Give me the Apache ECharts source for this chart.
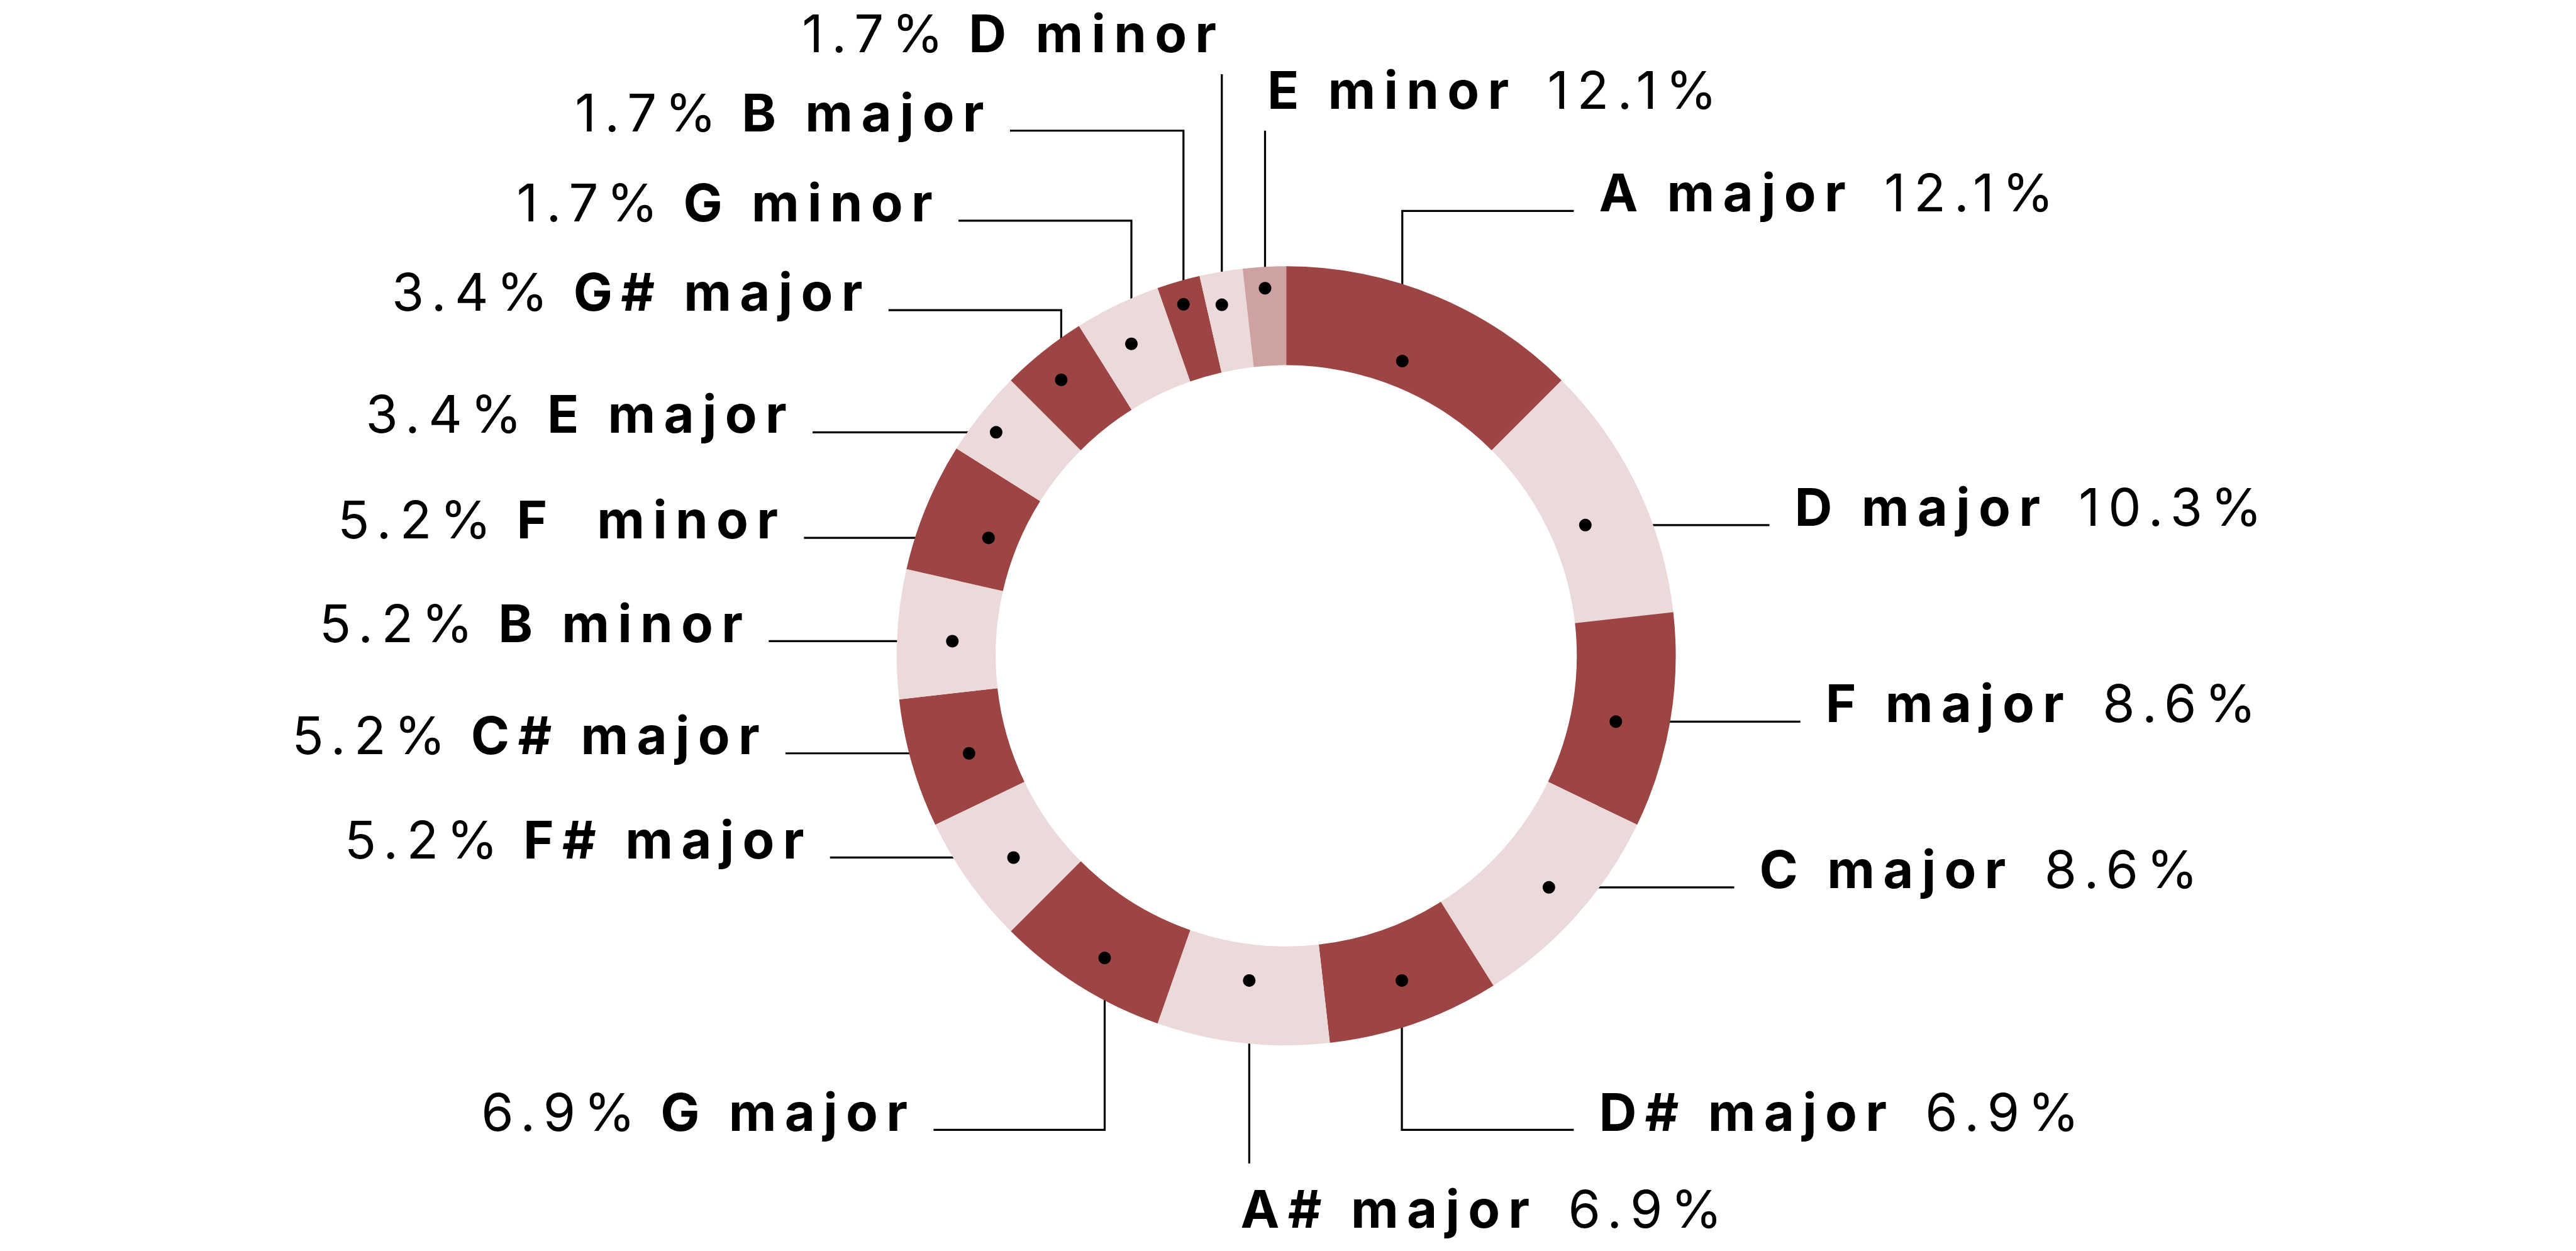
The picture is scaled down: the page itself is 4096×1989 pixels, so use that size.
<!DOCTYPE html>
<html><head><meta charset="utf-8">
<script src="https://cdn.jsdelivr.net/npm/echarts@6/dist/echarts.min.js"></script>
<style>
html,body{margin:0;padding:0;background:#fff;overflow:hidden}
#chart{width:4096px;height:1989px}
#chart text{letter-spacing:0.16em}
</style>
</head><body><div id="chart"></div>
<script>
// ---- data ----
const keys = ['A major','D major','F major','C major','D# major','A# major','G major','F# major','C# major','B minor','F  minor','E major','G# major','G minor','B major','D minor','E minor'];
// slice sizes as drawn in the reference (units of 1/56 of the ring)
const counts = [7,6,5,5,4,4,4,3,3,3,3,2,2,2,1,1,1];
const percentLabels = ['12.1%','10.3%','8.6%','8.6%','6.9%','6.9%','6.9%','5.2%','5.2%','5.2%','5.2%','3.4%','3.4%','1.7%','1.7%','1.7%','12.1%'];
// marker dots: radius (fraction of outer radius) and angle (degrees clockwise from top)
const dotRadii  = [0.813,0.838,0.863,0.899,0.885,0.839,0.905,0.871,0.852,0.858,0.822,0.940,0.914,0.894,0.940,0.916,0.945];
const dotAngles = [21.5,66.4,101.3,131.4,160.4,186.5,211.0,233.5,252.9,272.5,291.6,307.6,320.8,333.6,343.7,349.6,356.7];

// ---- layout (reference px, scaled by S) ----
const S = 0.862;
const CX = 2372.6*S, CY = 1209.5*S, RO = 718.5*S, RI = 536*S;
const FS = 83, LS_EM = 0.16, LSPX = FS*LS_EM;
const BASE_OFF = 0.30*FS + 4;
const labelCfg = [
  {t:'uh', side:'r', ey:389, ex:2903},
  {t:'h',  side:'r', ex:3264},
  {t:'h',  side:'r', ex:3321},
  {t:'h',  side:'r', ex:3199},
  {t:'dh', side:'r', ey:2084, ex:2903},
  {t:'vd', side:'r', ey:2146, dx:-16},
  {t:'dh', side:'l', ey:2084, ex:1722},
  {t:'h',  side:'l', ex:1531},
  {t:'h',  side:'l', ex:1449},
  {t:'h',  side:'l', ex:1418},
  {t:'h',  side:'l', ex:1483},
  {t:'h',  side:'l', ex:1499},
  {t:'uh', side:'l', ey:572, ex:1639},
  {t:'uh', side:'l', ey:407, ex:1768},
  {t:'uh', side:'l', ey:241, ex:1863},
  {t:'vu', side:'l', ey:137, dx:-10},
  {t:'vu', side:'r', ey:241, dx:4}
];
const DARK = '#9d4545', LIGHT = '#ecdada', MID = '#cfa2a2';
function sliceColor(i){ return i === keys.length-1 ? MID : (i % 2 === 0 ? DARK : LIGHT); }

// text measurement that includes the letter spacing used for drawing
const mctx = document.createElement('canvas').getContext('2d');
if (echarts.setPlatformAPI) {
  echarts.setPlatformAPI({
    measureText: function (text, font) {
      mctx.font = font || '12px sans-serif';
      const m = mctx.measureText(text);
      const fm = /(\d+(?:\.\d+)?)px/.exec(font || '');
      const fs = fm ? parseFloat(fm[1]) : 12;
      return {
        width: m.width + text.length * LS_EM * fs,
        actualBoundingBoxAscent: m.actualBoundingBoxAscent,
        actualBoundingBoxDescent: m.actualBoundingBoxDescent,
        actualBoundingBoxLeft: m.actualBoundingBoxLeft,
        actualBoundingBoxRight: m.actualBoundingBoxRight
      };
    }
  });
}

const chart = echarts.init(document.getElementById('chart'), null, {renderer:'svg'});

function dotPixel(i){
  let p = null;
  try { p = chart.convertToPixel({polarIndex:0}, [dotRadii[i], dotAngles[i]]); } catch(e) { p = null; }
  if (!p || !isFinite(p[0])) {
    const th = dotAngles[i]/180*Math.PI;
    p = [CX + dotRadii[i]*RO*Math.sin(th), CY - dotRadii[i]*RO*Math.cos(th)];
  }
  return p;
}

const txt = {fontFamily:'Inter', fontSize:FS, lineHeight:FS, color:'#000'};
chart.setOption({
  backgroundColor:'#fff',
  animation:false,
  polar:{center:[CX,CY], radius:[0,RO]},
  angleAxis:{type:'value', min:0, max:360, startAngle:90, clockwise:true, show:false},
  radiusAxis:{type:'value', min:0, max:1, show:false},
  series:[
    {
      type:'pie', center:[CX,CY], radius:[RI,RO], startAngle:90, clockwise:true,
      avoidLabelOverlap:false, silent:true, minShowLabelAngle:0,
      data: keys.map((k,i)=>({name:k, value:counts[i], itemStyle:{color:sliceColor(i)}})),
      label:{
        show:true, position:'outside',
        formatter:function(p){
          const i=p.dataIndex;
          return labelCfg[i].side==='r'
            ? '{n|'+keys[i]+'}{gr| }{p|'+percentLabels[i]+'}'
            : '{p|'+percentLabels[i]+'}{gl| }{n|'+keys[i]+'}';
        },
        rich:{
          n:Object.assign({fontWeight:700}, txt),
          p:Object.assign({fontWeight:400}, txt),
          gr:{width:48, fontSize:FS, lineHeight:FS},
          gl:{width:27, fontSize:FS, lineHeight:FS}
        }
      },
      labelLine:{show:true, lineStyle:{color:'#000', width:3.2, opacity:1}},
      labelLayout:function(p){
        const i=p.dataIndex, c=labelCfg[i], d=dotPixel(i);
        const gR=40, gL=28;
        let pts, x, y, align = c.side==='r' ? 'left' : 'right';
        if (c.t==='h') {
          const ex=c.ex*S; pts=[d,[ex,d[1]]];
          x = c.side==='r' ? ex+gR : ex-gL; y=d[1];
        } else if (c.t==='uh' || c.t==='dh') {
          const ex=c.ex*S, ey=c.ey*S; pts=[d,[d[0],ey],[ex,ey]];
          x = c.side==='r' ? ex+gR : ex-gL; y=ey;
        } else if (c.t==='vu') {
          const ey=c.ey*S; pts=[d,[d[0],ey]];
          x = d[0]+c.dx*S + (align==='right' ? LSPX : 0); y = ey-42*S;
        } else {
          const ey=c.ey*S; pts=[d,[d[0],ey]];
          x = d[0]+c.dx*S; y = ey+117*S;
        }
        return {x:x, y:y-BASE_OFF, align:align, verticalAlign:'middle', labelLinePoints:pts};
      },
      emphasis:{disabled:true}
    },
    {
      type:'scatter', coordinateSystem:'polar', silent:true, z:10,
      symbol:'circle', symbolSize:20, itemStyle:{color:'#000', opacity:1},
      data: dotRadii.map((r,i)=>[r, dotAngles[i]])
    }
  ]
});
</script></body></html>
